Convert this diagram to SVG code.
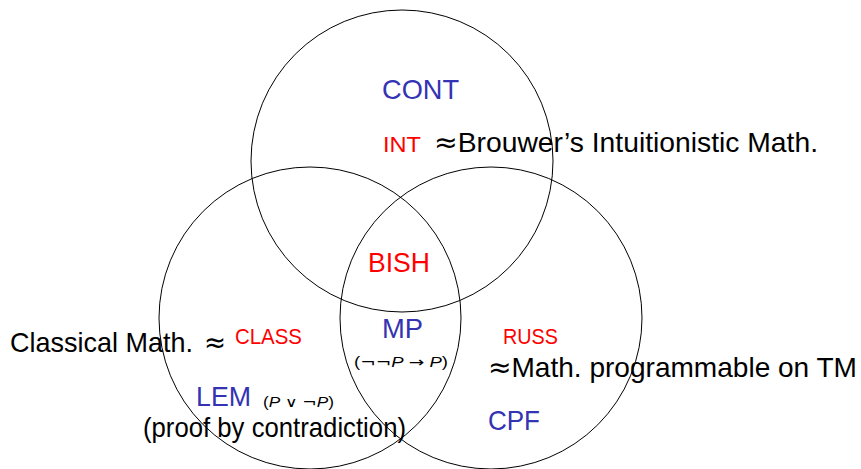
<svg xmlns="http://www.w3.org/2000/svg" width="861" height="469" viewBox="0 0 861 469">
<style>
.c{fill:none;stroke:#000;stroke-width:1}
text{font-family:"Liberation Sans",Arial,sans-serif}
.big{font-size:28px;fill:#000}
.blue{font-size:28px;fill:#3333b3}
.red{font-size:22px;fill:#ff0000}
.bish{font-size:28px;fill:#ff0000}
.sm{font-size:14px;fill:#000}
.it{font-style:italic}
.m{font-family:"DejaVu Sans",sans-serif}
</style>
<rect width="861" height="469" fill="#fff"/>
<g id="circles">
<circle id="top" class="c" cx="402" cy="161" r="151"/>
<circle id="left" class="c" cx="310" cy="318" r="151"/>
<circle id="right" class="c" cx="491" cy="318" r="151"/>
</g>
<g id="int-region">
<text class="blue" x="382" y="99" textLength="77" lengthAdjust="spacingAndGlyphs">CONT</text>
<text class="red" x="383" y="152" textLength="38" lengthAdjust="spacingAndGlyphs">INT</text>
<text class="big" x="434" y="152" textLength="384" lengthAdjust="spacingAndGlyphs"><tspan class="m">≈</tspan>Brouwer’s Intuitionistic Math.</text>
</g>
<g id="bish">
<text class="bish" x="368" y="272" textLength="62" lengthAdjust="spacingAndGlyphs">BISH</text>
</g>
<g id="class-region">
<text class="big" x="10" y="352" textLength="183" lengthAdjust="spacingAndGlyphs">Classical Math.</text>
<text class="big m" x="204" y="352" textLength="22" lengthAdjust="spacingAndGlyphs">≈</text>
<text class="red" x="235" y="344" textLength="67" lengthAdjust="spacingAndGlyphs">CLASS</text>
<text class="blue" x="196" y="406" textLength="55" lengthAdjust="spacingAndGlyphs">LEM</text>
<text class="sm" x="263" y="407" textLength="71" lengthAdjust="spacingAndGlyphs">(<tspan class="it">P</tspan> <tspan class="m">∨</tspan> <tspan class="m">¬</tspan><tspan class="it">P</tspan>)</text>
<text class="big" x="143" y="437" textLength="263" lengthAdjust="spacingAndGlyphs">(proof by contradiction)</text>
</g>
<g id="mp">
<text class="blue" x="382" y="338" textLength="41" lengthAdjust="spacingAndGlyphs">MP</text>
<text class="sm" x="354" y="367" textLength="94" lengthAdjust="spacingAndGlyphs">(<tspan class="m">¬¬</tspan><tspan class="it">P</tspan> <tspan class="m">→</tspan> <tspan class="it">P</tspan>)</text>
</g>
<g id="russ-region">
<text class="red" x="503" y="344" textLength="55" lengthAdjust="spacingAndGlyphs">RUSS</text>
<text class="big" x="488" y="377" textLength="369" lengthAdjust="spacingAndGlyphs"><tspan class="m">≈</tspan>Math. programmable on TM</text>
<text class="blue" x="488" y="430" textLength="52" lengthAdjust="spacingAndGlyphs">CPF</text>
</g>
</svg>
